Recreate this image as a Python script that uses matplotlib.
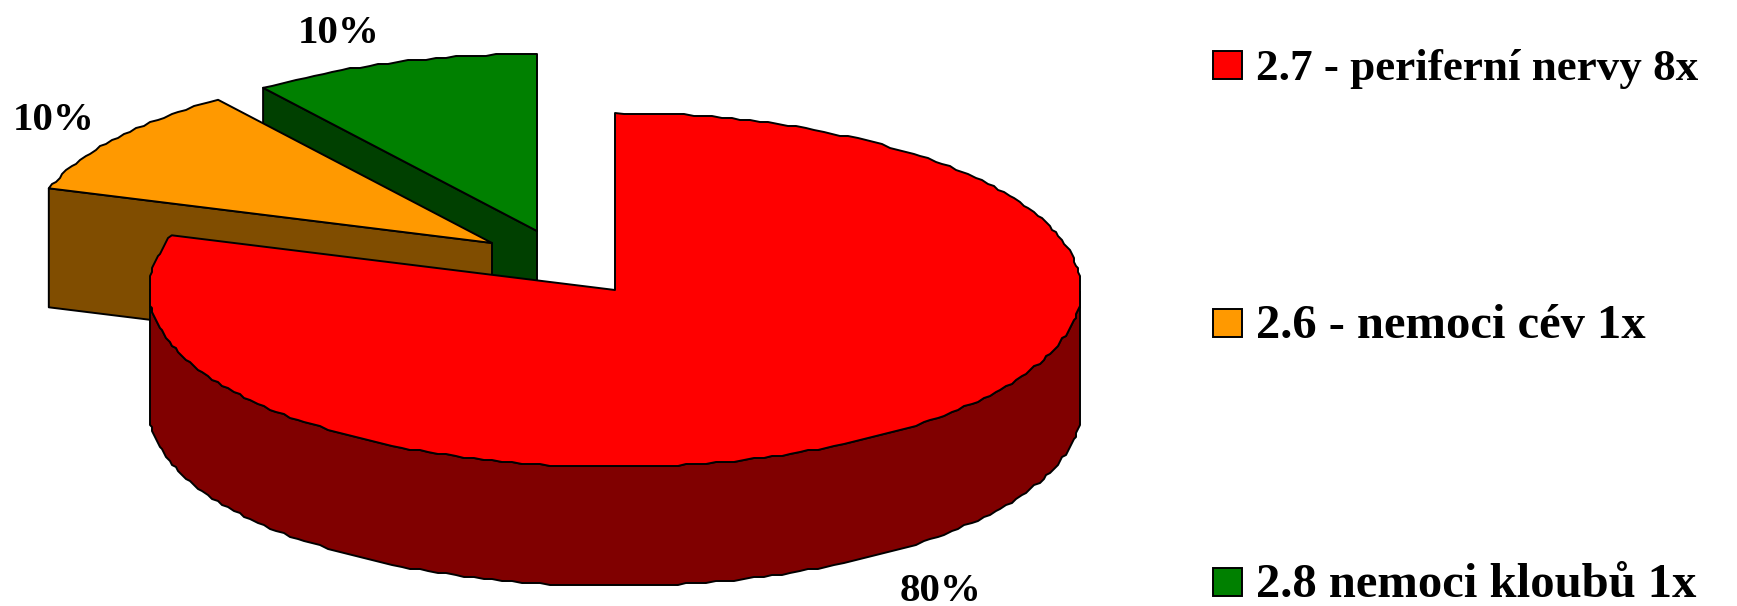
import numpy as np
import matplotlib
matplotlib.use('Agg')
import matplotlib.pyplot as plt
from matplotlib.patches import Polygon, Rectangle

labels = ['2.7 - periferní nervy 8x', '2.6 - nemoci cév 1x', '2.8 nemoci kloubů 1x']
values = [80, 10, 10]
colors = ['#ff0000', '#ff9900', '#008000']
dark = ['#800000', '#804d00', '#004000']

# layout in pixels
centers = [(615, 290), (492, 243), (537, 231)]
pct_pos = [(941, 601), (54, 130), (339, 43)]
legend_base = [80, 338, 597]
legend_size = [32.5, 35, 35]
rx, ry, depth = 466, 177, 119

plt.rcParams['font.family'] = ['Liberation Serif', 'DejaVu Serif']
fig = plt.figure(figsize=(17.37, 6.06), dpi=100)
ax = fig.add_axes([0, 0, 1, 1])
ax.set_xlim(0, 1737)
ax.set_ylim(606, 0)
ax.axis('off')

def rim(c, t1, t2):
    # about one point per 1.2 degrees
    t = np.radians(np.linspace(t1, t2, max(2, int(abs(t2 - t1) / 1.2))))
    pts = np.column_stack([c[0] + rx * np.cos(t), c[1] - ry * np.sin(t)])
    # the original edge is slightly stepped
    pts[1:-1] = np.round(pts[1:-1] / 2) * 2
    return pts

def poly(pts, col, z):
    ax.add_patch(Polygon(pts, closed=True, facecolor=col, edgecolor='k',
                         lw=1.4, joinstyle='round', zorder=z))

# angles: clockwise from the top
ends = 90 - np.cumsum(values) * 3.6
starts = np.r_[90, ends[:-1]]

# back to front: green, orange, red
for n, i in enumerate([2, 1, 0]):
    c = centers[i]
    z = 2 + n * 3
    a1, a2 = starts[i], ends[i]
    edge = rim(c, a1, a2)
    top = np.vstack([[c], edge])
    if i == 0:
        # outer wall, same rim points as the top so no gap shows
        r = edge[edge[:, 1] >= c[1]]
        wall = np.vstack([r, (r + [0, depth])[::-1]])
        poly(wall, dark[i], z)
    else:
        # cut wall towards the viewer, from the centre to the rim
        e = edge[0]
        wall = [c, e, (e[0], e[1] + depth), (c[0], c[1] + depth)]
        poly(wall, dark[i], z)
    poly(top, colors[i], z + 1)

for v, (x, y) in zip(values, pct_pos):
    ax.text(x, y, f'{v}%', fontsize=29.5, fontweight='bold', ha='center',
            va='baseline', color='k', zorder=20)

for lab, col, y, fs in zip(labels, colors, legend_base, legend_size):
    ax.add_patch(Rectangle((1213, y - 29), 29, 28, facecolor=col, edgecolor='k',
                           lw=1.4, zorder=20))
    ax.text(1256, y, lab, fontsize=fs, fontweight='bold', ha='left',
            va='baseline', color='k', zorder=20)

fig.savefig('out.png', dpi=100, facecolor='white')
